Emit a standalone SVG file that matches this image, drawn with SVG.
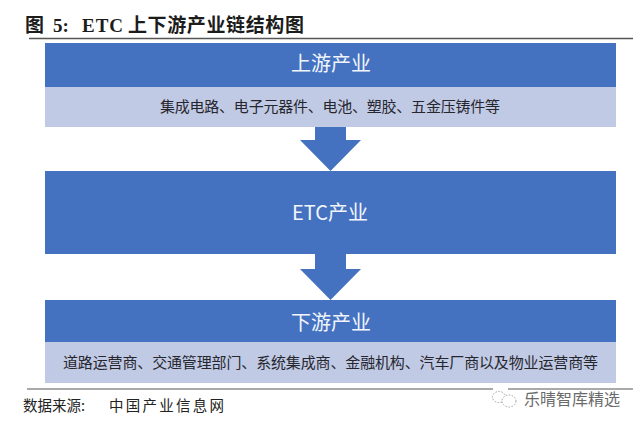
<svg xmlns="http://www.w3.org/2000/svg" width="640" height="427" viewBox="0 0 640 427">
<style>
text{font-family:"Noto Sans CJK SC","Liberation Sans",sans-serif}
.dark{fill:#4472c1}
.light{fill:#c1cae4}
.head{fill:#f2f6fb;font-size:20px;text-anchor:middle}
.sub{fill:#26262e;font-size:15px}
.rule{stroke:#555;fill:none}
.arrow{fill:#4472c1}
.title{font-family:"Liberation Serif","Noto Sans CJK SC",serif;font-weight:700;font-size:19px;fill:#1c1c1c}
.src{font-size:14.5px;fill:#222}
.wm{fill:#6a6a6a;font-size:16px}
.ic{fill:#fff;stroke:#8a8a8a;stroke-width:.8;stroke-dasharray:1.5 1.5}
</style>
<rect width="640" height="427" fill="#fff"/>
<g id="title">
<text class="title" x="25" y="32">图</text>
<text class="title" x="53" y="32">5:</text>
<text class="title" x="82" y="32" textLength="41">ETC</text>
<text class="title" x="128" y="32" textLength="176">上下游产业链结构图</text>
</g>
<line class="rule" x1="29" y1="38.5" x2="633" y2="38.5" stroke-width="1.5"/>
<g id="upstream">
<rect class="dark" x="45" y="43" width="571" height="44"/>
<rect class="light" x="45" y="87" width="571" height="40"/>
<text class="head" x="331" y="71">上游产业</text>
<text class="sub" x="160" y="112" textLength="340">集成电路、电子元器件、电池、塑胶、五金压铸件等</text>
</g>
<g id="etc">
<rect class="dark" x="45" y="171" width="571" height="83"/>
<text class="head" x="330" y="220">ETC产业</text>
</g>
<g id="downstream">
<rect class="dark" x="45" y="300" width="571" height="42"/>
<rect class="light" x="45" y="342" width="571" height="41"/>
<text class="head" x="331" y="330">下游产业</text>
<text class="sub" x="63" y="368" textLength="535">道路运营商、交通管理部门、系统集成商、金融机构、汽车厂商以及物业运营商等</text>
</g>
<g id="connectors">
<polygon class="arrow" points="315,127 346,127 346,140 361,140 330.5,171 300,140 315,140"/>
<polygon class="arrow" points="315,254 346,254 346,269 361,269 330.5,300 300,269 315,269"/>
</g>
<line class="rule" x1="27" y1="389" x2="493" y2="389" stroke="#333" stroke-width="1"/>
<line class="rule" x1="508" y1="389" x2="633" y2="389" stroke="#333" stroke-width="1"/>
<g id="source"><text class="src" x="23" y="411">数据来源:</text><text class="src" x="109" y="411" textLength="115">中国产业信息网</text></g>
<g id="watermark">
<ellipse class="ic" cx="499" cy="397" rx="6.5" ry="5.5"/>
<ellipse class="ic" cx="509" cy="401" rx="7" ry="6"/>
<text class="wm" x="524" y="405" textLength="96">乐晴智库精选</text>
</g>
</svg>
